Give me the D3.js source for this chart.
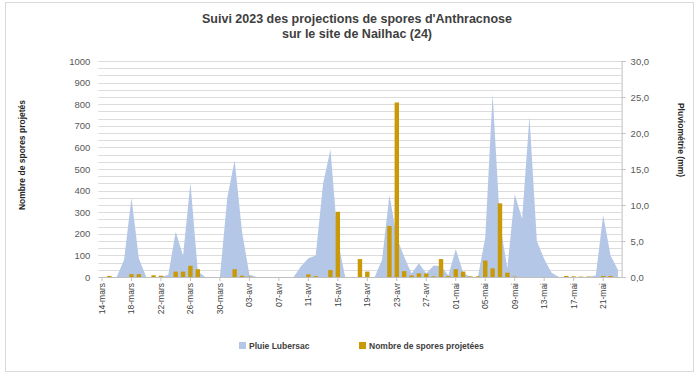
<!DOCTYPE html>
<html lang="fr">
<head>
<meta charset="utf-8">
<script src="https://cdn.jsdelivr.net/npm/d3@7"></script>
<style>
  html, body { margin: 0; padding: 0; background: #fff; }
  svg { display: block; font-family: "Liberation Sans", Arial, sans-serif; }
</style>
</head>
<body>
<svg id="chart" width="699" height="376"></svg>
<script>
// Daily categories, 14 March to 23 May 2023
const categories = [
  "14-mars","15-mars","16-mars","17-mars","18-mars","19-mars","20-mars","21-mars","22-mars","23-mars",
  "24-mars","25-mars","26-mars","27-mars","28-mars","29-mars","30-mars","31-mars",
  "01-avr","02-avr","03-avr","04-avr","05-avr","06-avr","07-avr","08-avr","09-avr","10-avr",
  "11-avr","12-avr","13-avr","14-avr","15-avr","16-avr","17-avr","18-avr","19-avr","20-avr",
  "21-avr","22-avr","23-avr","24-avr","25-avr","26-avr","27-avr","28-avr","29-avr","30-avr",
  "01-mai","02-mai","03-mai","04-mai","05-mai","06-mai","07-mai","08-mai","09-mai","10-mai",
  "11-mai","12-mai","13-mai","14-mai","15-mai","16-mai","17-mai","18-mai","19-mai","20-mai",
  "21-mai","22-mai","23-mai"
];

// Rainfall at Lubersac (mm)
const rain = [
  0, 0, 0, 2.4, 11.0, 2.6, 0, 0, 0, 0.3,
  6.3, 3.0, 13.1, 0.8, 0, 0, 0, 11.0,
  16.2, 6.3, 0.3, 0, 0, 0, 0, 0, 0, 1.5,
  2.6, 3.0, 13.0, 17.7, 5.0, 0, 0, 0, 0, 0,
  2.4, 11.4, 5.5, 2.8, 0.5, 1.9, 0.5, 1.6, 1.5, 0.2,
  3.9, 0.6, 0, 0, 5.5, 25.4, 7.4, 1.2, 11.5, 8.1,
  22.3, 5.0, 2.5, 0.6, 0, 0, 0, 0, 0, 0.2,
  8.6, 3.0, 1.0
];

// Number of spores projected per day
const spores = [
  0, 5, 0, 0, 13, 13, 0, 8, 6, 0,
  25, 25, 52, 36, 0, 0, 0, 0,
  36, 6, 2, 0, 0, 0, 0, 0, 0, 0,
  12, 4, 0, 32, 302, 0, 0, 83, 25, 0,
  0, 236, 808, 27, 7, 17, 16, 3, 83, 4,
  36, 25, 3, 3, 76, 40, 341, 20, 2, 0,
  0, 0, 0, 0, 0, 5, 3, 2, 2, 0,
  5, 5, 0
];

const tickLabels = ["14-mars","18-mars","22-mars","26-mars","30-mars","03-avr","07-avr","11-avr",
  "15-avr","19-avr","23-avr","27-avr","01-mai","05-mai","09-mai","13-mai","17-mai","21-mai"];
const sporeTicks = [0,100,200,300,400,500,600,700,800,900,1000];
const rainTicks = [0,5,10,15,20,25,30];

const titleLines = ["Suivi 2023 des projections de spores d'Anthracnose", "sur le site de Nailhac (24)"];
const seriesNames = ["Pluie Lubersac", "Nombre de spores projetées"];

const colRain = "#b4c7e7";
const colSpores = "#c99a06";
const colText = "#595959";

const svg = d3.select("#chart");
const W = 699, H = 376;
const plot = { left: 98.3, right: 621.6, top: 61, bottom: 277 };

svg.append("rect").attr("x", 0).attr("y", 0).attr("width", W).attr("height", H).attr("fill", "#fff");
svg.append("rect").attr("x", 5.5).attr("y", 2.5).attr("width", 688).attr("height", 369)
  .attr("fill", "none").attr("stroke", "#d9d9d9").attr("stroke-width", 1);

const x = d3.scaleBand().domain(categories).range([plot.left, plot.right])
  .paddingInner(0.4).paddingOuter(0.2);
const yL = d3.scaleLinear().domain([0, 1000]).range([plot.bottom, plot.top]);
const yR = d3.scaleLinear().domain([0, 30]).range([plot.bottom, plot.top]);
const cx = d => x(d) + x.bandwidth() / 2;

// Gridlines every 1 mm
svg.append("g").selectAll("line").data(d3.range(1, 31)).join("line")
  .attr("x1", plot.left).attr("x2", plot.right)
  .attr("y1", d => Math.round(yR(d)) + 0.5).attr("y2", d => Math.round(yR(d)) + 0.5)
  .attr("stroke", "#dcdcdc").attr("stroke-width", 1);

// Rainfall area (right axis)
const area = d3.area()
  .x((d, i) => cx(categories[i]))
  .y0(yR(0))
  .y1(d => yR(d));
svg.append("path").datum(rain).attr("d", area).attr("fill", colRain);

// Spore bars (left axis)
svg.append("g").selectAll("rect").data(spores).join("rect")
  .attr("x", (d, i) => x(categories[i]))
  .attr("width", x.bandwidth())
  .attr("y", d => yL(d))
  .attr("height", d => yL(0) - yL(d))
  .attr("fill", colSpores);

// Left axis
const gL = svg.append("g").attr("transform", `translate(${plot.left - 8},0)`)
  .call(d3.axisLeft(yL).tickValues(sporeTicks).tickFormat(d3.format("d")).tickSize(0).tickPadding(0));
gL.select(".domain").remove();
gL.selectAll("text").attr("fill", colText).attr("font-size", 9.5)
  .attr("font-family", "'Liberation Sans', Arial, sans-serif");

// Right axis
const fr = d3.formatLocale({ decimal: ",", thousands: " ", grouping: [3], currency: ["", "€"] });
const gR = svg.append("g").attr("transform", `translate(${plot.right},0)`)
  .call(d3.axisRight(yR).tickValues(rainTicks).tickFormat(fr.format(".1f")).tickSize(4).tickPadding(5));
gR.select(".domain").attr("stroke", "#bfbfbf");
gR.selectAll("line").attr("stroke", "#bfbfbf");
gR.selectAll("text").attr("fill", colText).attr("font-size", 9.5)
  .attr("font-family", "'Liberation Sans', Arial, sans-serif");

// Bottom axis
const gB = svg.append("g").attr("transform", `translate(0,${plot.bottom})`)
  .call(d3.axisBottom(x).tickValues(tickLabels).tickSize(4).tickSizeOuter(0));
gB.select(".domain").attr("stroke", "#bfbfbf").attr("d", `M${plot.left},0.5H${plot.right}`);
gB.selectAll("line").attr("stroke", "#bfbfbf");
gB.selectAll("text")
  .attr("fill", "#404040").attr("font-size", 8.5)
  .attr("font-family", "'Liberation Sans', Arial, sans-serif")
  .attr("transform", "rotate(-90)")
  .attr("text-anchor", "end")
  .attr("x", -6).attr("y", 0).attr("dy", "0.35em");

// Title
svg.append("g").selectAll("text").data(titleLines).join("text")
  .attr("x", 357).attr("y", (d, i) => 23 + i * 15)
  .attr("text-anchor", "middle").attr("font-size", 12.5).attr("font-weight", "bold")
  .attr("fill", "#404040").text(d => d);

// Axis titles
svg.append("text").attr("transform", "translate(25,155) rotate(-90)")
  .attr("text-anchor", "middle").attr("font-size", 8.5).attr("font-weight", "bold")
  .attr("fill", "#262626").text("Nombre de spores projetés");
svg.append("text").attr("transform", "translate(678,140) rotate(90)")
  .attr("text-anchor", "middle").attr("font-size", 8.5).attr("font-weight", "bold")
  .attr("fill", "#262626").text("Pluviométrie (mm)");

// Legend
const legend = [
  { name: seriesNames[0], color: colRain, x: 239 },
  { name: seriesNames[1], color: colSpores, x: 359 }
];
const lg = svg.append("g").selectAll("g").data(legend).join("g")
  .attr("transform", d => `translate(${d.x},342)`);
lg.append("rect").attr("width", 7).attr("height", 7).attr("fill", d => d.color);
lg.append("text").attr("x", 10).attr("y", 6.5).attr("font-size", 8.5).attr("font-weight", "bold")
  .attr("fill", "#404040").text(d => d.name);
</script>
</body>
</html>
